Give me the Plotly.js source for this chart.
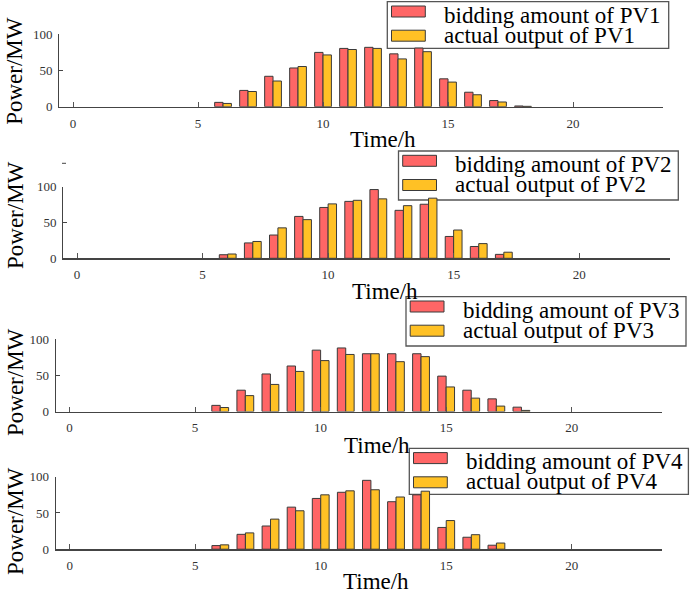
<!DOCTYPE html>
<html><head><meta charset="utf-8">
<script src="https://cdn.plot.ly/plotly-3.0.1.min.js"></script>
<style>html,body{margin:0;padding:0;background:#fff}</style>
</head><body>
<div id="chart" style="width:692px;height:593px"></div>
<script>
// ---- data ----
const hours = [0,1,2,3,4,5,6,7,8,9,10,11,12,13,14,15,16,17,18,19,20,21,22,23];
const bidPV1 = [0,0,0,0,0,0,6,22.5,42,53.5,75,80.5,82,73,81,38.5,20,8.5,1,0,0,0,0,0];
const actPV1 = [0,0,0,0,0,0,4.5,21,35.5,55.5,71.5,79,80.5,66,76,34,16.5,6.5,0.5,0,0,0,0,0];
const bidPV2 = [0,0,0,0,0,0,5,21.5,32.5,58.5,71,79.5,96,67,75.5,30.5,16.5,5.5,0,0,0,0,0,0];
const actPV2 = [0,0,0,0,0,0,6,23.5,42.5,54,76,81,83,73.5,84,39.5,20.5,8.5,0,0,0,0,0,0];
const bidPV3 = [0,0,0,0,0,0,8.5,29.5,52,63,85,88,80,80,80,49,29.5,17.5,6,0,0,0,0,0];
const actPV3 = [0,0,0,0,0,0,5.5,22,37.5,55.5,70.5,79,80,69,76,34,18.5,7.5,1.5,0,0,0,0,0];
const bidPV4 = [0,0,0,0,0,0,5,20.5,32,58,70,78.5,95,65.5,75,30,16.5,5.5,0,0,0,0,0,0];
const actPV4 = [0,0,0,0,0,0,6,22.5,41.5,53,75,80.5,82,72,80,39.5,20,8.5,0,0,0,0,0,0];
const xTicks = [0,5,10,15,20];
const yTicks = [0,50,100];
const bidNames = ['bidding amount of PV1','bidding amount of PV2','bidding amount of PV3','bidding amount of PV4'];
const actNames = ['actual output of PV1','actual output of PV2','actual output of PV3','actual output of PV4'];
const xTitle = 'Time/h';
const yTitle = 'Power/MW';

// ---- styling / layout ----
const W = 692, H = 593;
const RED = '#FF6666', YEL = '#FFC125', EDGE = '#3a3a3a';
const SERIF = 'Liberation Serif, Times New Roman, serif';
const bids = [bidPV1, bidPV2, bidPV3, bidPV4];
const acts = [actPV1, actPV2, actPV3, actPV4];

// pixel geometry per panel
const panels = [
  {xl:59.3, xr:663.0, yb:106.7, yt:34.3, leg:[387.3,1.7,668.7,48.3], ytc:70.8, xtx:383, xty:140},
  {xl:63.3, xr:669.5, yb:258.3, yt:186.7, leg:[398.5,151,678.3,200], ytc:215, xtx:385, xty:291.5},
  {xl:55.8, xr:662.0, yb:411.5, yt:339.3, leg:[406,296.7,686,346], ytc:382, xtx:377, xty:445},
  {xl:55.9, xr:662.1, yb:549.2, yt:476.7, leg:[409.3,448.3,688.4,494.3], ytc:521, xtx:376, xty:581}
];
const px = v => v / W;
const py = v => 1 - v / H;
const edgeW = arr => arr.map(v => (v > 0 ? 1 : 0));

const data = [];
const layout = {
  width: W, height: H,
  margin: {l:0, r:0, t:0, b:0},
  paper_bgcolor: '#fff', plot_bgcolor: 'rgba(0,0,0,0)',
  barmode: 'group', bargap: 0.33, bargroupgap: 0,
  showlegend: false,
  shapes: [], annotations: []
};

const tickFont = {family: SERIF, size: 13, color: '#333'};
const titleFont = {family: SERIF, size: 23, color: '#000'};

panels.forEach((p, i) => {
  const n = i === 0 ? '' : String(i + 1);
  const xa = 'x' + n, ya = 'y' + n;
  data.push({type:'bar', x:hours, y:bids[i], name:bidNames[i], xaxis:xa, yaxis:ya,
    marker:{color:RED, line:{color:EDGE, width:edgeW(bids[i])}}});
  data.push({type:'bar', x:hours, y:acts[i], name:actNames[i], xaxis:xa, yaxis:ya,
    marker:{color:YEL, line:{color:EDGE, width:edgeW(acts[i])}}});
  layout['xaxis' + n] = {
    domain:[px(p.xl), px(p.xr)], range:[-0.55, 23.6], anchor: ya,
    tickmode:'array', tickvals:xTicks, ticktext:xTicks.map(String),
    ticks:'inside', ticklen:5, tickwidth:1, tickcolor:'#555',
    showline:true, linecolor:'#444', linewidth:1.3,
    showgrid:false, zeroline:false, tickfont:tickFont, ticklabelstandoff:4, fixedrange:true
  };
  layout['yaxis' + n] = {
    domain:[py(p.yb), py(p.yt)], range:[0, 100], anchor: xa,
    tickmode:'array', tickvals:yTicks, ticktext:yTicks.map(String),
    ticks:'inside', ticklen:4, tickwidth:1, tickcolor:'#444',
    showline:true, linecolor:'#444', linewidth:1.3,
    showgrid:false, zeroline:false, tickfont:tickFont, ticklabelstandoff:3, fixedrange:true
  };
  // axis titles
  layout.annotations.push({xref:'paper', yref:'paper', x:px(15), y:py(p.ytc), text:yTitle,
    textangle:-90, showarrow:false, xanchor:'center', yanchor:'middle', font:titleFont});
  layout.annotations.push({xref:'paper', yref:'paper', x:px(p.xtx), y:py(p.xty), text:xTitle,
    showarrow:false, xanchor:'center', yanchor:'middle', font:titleFont});
  // legend box
  const [L, T, R, B] = p.leg;
  layout.shapes.push({type:'rect', xref:'paper', yref:'paper', layer:'below',
    x0:px(L), x1:px(R), y0:py(B), y1:py(T), fillcolor:'#fff', line:{color:'#555', width:1.3}});
  layout.shapes.push({type:'rect', xref:'paper', yref:'paper', layer:'above',
    x0:px(L+4.2), x1:px(L+38), y0:py(T+15.3), y1:py(T+4.3), fillcolor:RED, line:{color:EDGE, width:1}});
  layout.shapes.push({type:'rect', xref:'paper', yref:'paper', layer:'above',
    x0:px(L+4.2), x1:px(L+38), y0:py(T+39.5), y1:py(T+28.5), fillcolor:YEL, line:{color:EDGE, width:1}});
  layout.annotations.push({xref:'paper', yref:'paper', x:px(L+54.5), y:py(T+13.3), text:bidNames[i],
    showarrow:false, xanchor:'left', yanchor:'middle', font:titleFont});
  layout.annotations.push({xref:'paper', yref:'paper', x:px(L+54.5), y:py(T+33.5), text:actNames[i],
    showarrow:false, xanchor:'left', yanchor:'middle', font:titleFont});
});
// small stray tick mark seen above panel 2
layout.shapes.push({type:'line', xref:'paper', yref:'paper', layer:'above',
  x0:px(62), x1:px(66), y0:py(163.3), y1:py(163.3), line:{color:'#444', width:1}});

Plotly.newPlot('chart', data, layout, {displayModeBar:false, staticPlot:true});
</script>
</body></html>
